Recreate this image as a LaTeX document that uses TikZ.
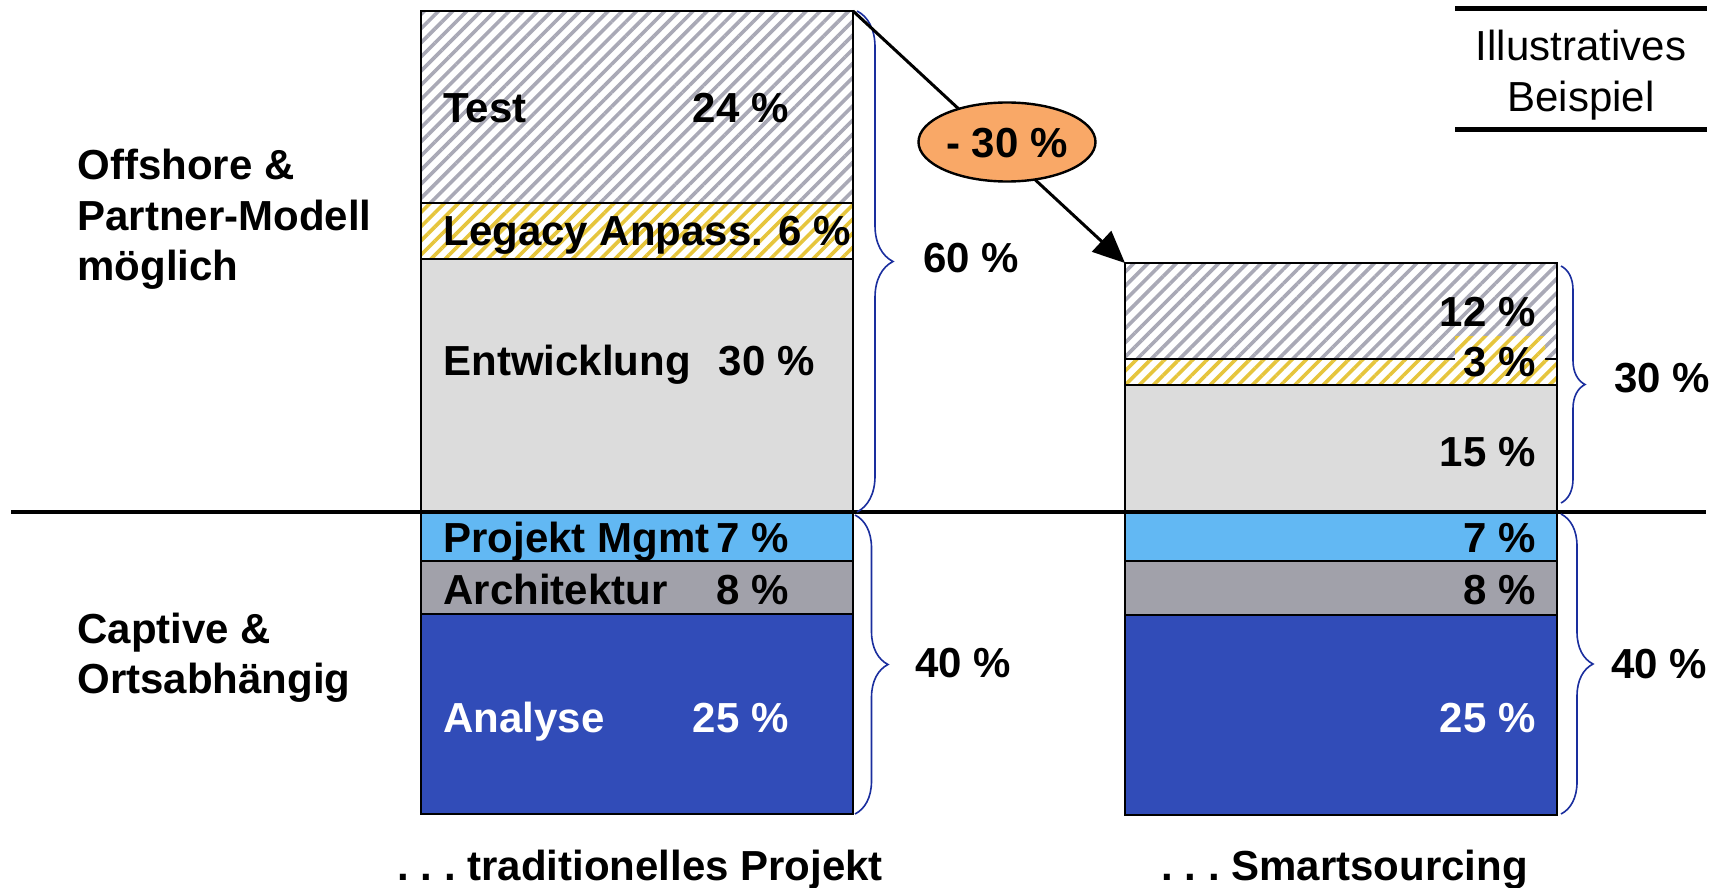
\documentclass[tikz,border=0pt]{standalone}
\usepackage{fontspec}
\setmainfont{Liberation Sans}
\usetikzlibrary{patterns.meta,decorations.pathreplacing,arrows.meta,shapes.geometric}
\definecolor{hatchgrey}{HTML}{A9A9B6}
\definecolor{hatchyellow}{HTML}{E6C53C}
\definecolor{devgrey}{HTML}{DCDCDC}
\definecolor{pmblue}{HTML}{62B8F3}
\definecolor{archgrey}{HTML}{A1A1AA}
\definecolor{anablue}{HTML}{314CB8}
\definecolor{braceblue}{HTML}{1A2E9E}
\definecolor{ovalorange}{HTML}{F9A867}
\tikzset{
  seg/.style={draw=black, line width=1.3pt},
  hatchG/.style={seg, preaction={fill=white}, pattern={Lines[angle=45,distance=5pt,line width=1.8pt]}, pattern color=hatchgrey},
  hatchY/.style={preaction={fill=white}, pattern={Lines[angle=45,distance=5pt,line width=1.8pt]}, pattern color=hatchyellow},
  brc/.style={decorate, draw=braceblue, line width=0.8pt},
  lbl/.style={inner sep=0pt, anchor=base west, font=\fontsize{21}{25}\selectfont\bfseries},
  num/.style={inner sep=0pt, anchor=base east, font=\fontsize{21}{25}\selectfont\bfseries},
  mid/.style={inner sep=0pt, anchor=base, font=\fontsize{21}{25}\selectfont},
}
\begin{document}
\begin{tikzpicture}[x=0.5pt,y=-0.5pt]
\useasboundingbox (0,0) rectangle (1726,888);
\fill[white] (0,0) rectangle (1726,888);

% left bar
\path[hatchG] (421,11) rectangle (853,203);
\path[seg, hatchY] (421,203) rectangle (853,259);
\path[seg, fill=devgrey] (421,259) rectangle (853,512);
\path[seg, fill=pmblue] (421,512) rectangle (853,561);
\path[seg, fill=archgrey] (421,561) rectangle (853,614);
\path[seg, fill=anablue] (421,614) rectangle (853,814);
\coordinate (Ltr) at (853,11);

% right bar
\path[hatchG] (1125,263) rectangle (1557,359);
\path[seg, hatchY] (1125,359) rectangle (1557,385);
\path[seg, fill=devgrey] (1125,385) rectangle (1557,512);
\path[seg, fill=pmblue] (1125,512) rectangle (1557,561);
\path[seg, fill=archgrey] (1125,561) rectangle (1557,615);
\path[seg, fill=anablue] (1125,615) rectangle (1557,815);
\coordinate (Rtl) at (1125,263);
\path[hatchY] (1455,336) rectangle (1545,383);

% dividing line
\coordinate (hl1) at (11,512);
\coordinate (hl2) at (1706,512);
\draw[line width=2pt] (hl1) -- (hl2);

% braces
\draw[brc, decoration={brace,amplitude=18pt}] (857,11) -- (857,512);
\draw[brc, decoration={brace,amplitude=16.5pt}] (855,515) -- (855,814);
\draw[brc, decoration={brace,amplitude=12pt}] (1561,266) -- (1561,503);
\draw[brc, decoration={brace,amplitude=16pt}] (1561,514) -- (1561,814);

% arrow with oval
\draw[line width=1.5pt, -{Triangle[length=16pt,width=14pt]}] (Ltr) -- (Rtl);
\node[ellipse, draw=black, line width=1.2pt, fill=ovalorange, minimum width=88.5pt, minimum height=39.5pt, inner sep=0pt] (oval) at (1007,142) {};
\node[mid, font=\fontsize{21}{25}\selectfont\bfseries] (ovaltxt) at (1007,158) {- 30 \%};

% left bar texts
\node[lbl] (t1) at (443,123) {Test};
\node[num] (t1n) at (789,123) {24 \%};
\node[lbl] (t2) at (443,245) {Legacy Anpass. 6 \%};
\node[lbl] (t3) at (443,375) {Entwicklung};
\node[num] (t3n) at (815,375) {30 \%};
\node[lbl] (t4) at (443,552) {Projekt Mgmt};
\node[num] (t4n) at (789,552) {7 \%};
\node[lbl] (t5) at (443,604) {Architektur};
\node[num] (t5n) at (789,604) {8 \%};
\node[lbl, text=white] (t6) at (443,732) {Analyse};
\node[num, text=white] (t6n) at (789,732) {25 \%};

% right bar texts
\node[num] (r1) at (1536,326) {12 \%};
\node[num] (r2) at (1536,376) {3 \%};
\node[num] (r3) at (1536,466) {15 \%};
\node[num] (r4) at (1536,552) {7 \%};
\node[num] (r5) at (1536,604) {8 \%};
\node[num, text=white] (r6) at (1536,732) {25 \%};

% brace labels
\node[lbl] (b1) at (923,272) {60 \%};
\node[lbl] (b2) at (915,677) {40 \%};
\node[lbl] (b3) at (1614,392) {30 \%};
\node[lbl] (b4) at (1611,678) {40 \%};

% side labels
\node[lbl] (s1) at (77,180) {Offshore \&};
\node[lbl] (s2) at (77,230) {Partner-Modell};
\node[lbl] (s3) at (77,280) {möglich};
\node[lbl] (s4) at (77,643) {Captive \&};
\node[lbl] (s5) at (77,693) {Ortsabhängig};

% bottom labels
\node[lbl] (c1) at (397,880) {.\ .\ .\ traditionelles Projekt};
\node[lbl] (c2) at (1161,880) {.\ .\ .\ Smartsourcing};

% illustrative box
\coordinate (i1) at (1455,9);
\coordinate (i2) at (1707,9);
\coordinate (i3) at (1455,130);
\coordinate (i4) at (1707,130);
\draw[line width=2.5pt] (i1) -- (i2);
\draw[line width=2.5pt] (i3) -- (i4);
\node[mid] (il1) at (1581,61) {Illustratives};
\node[mid] (il2) at (1581,112) {Beispiel};
\end{tikzpicture}
\end{document}
